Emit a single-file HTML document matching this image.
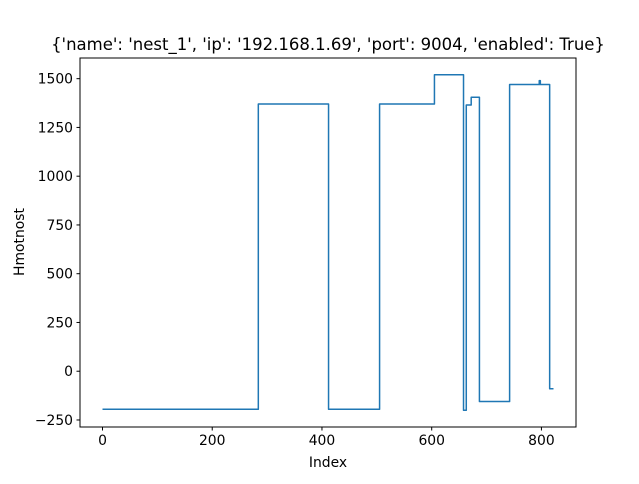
<!DOCTYPE html>
<html><head><meta charset="utf-8"><style>
html,body{margin:0;padding:0;background:#fff;}
svg text{font-family:"DejaVu Sans","Liberation Sans",sans-serif;fill:#000;}
</style></head><body>
<svg id="chart" width="639" height="479" viewBox="0 0 639 479" xmlns="http://www.w3.org/2000/svg">
<rect x="0" y="0" width="639" height="479" fill="#fff"/>
<text x="328" y="50" font-size="16.5" text-anchor="middle">{'name': 'nest_1', 'ip': '192.168.1.69', 'port': 9004, 'enabled': True}</text>
<g id="plot"></g>
<rect x="80" y="58" width="496" height="369" fill="none" stroke="#000" stroke-width="1"/>
<g id="xticks"></g>
<g id="yticks"></g>
<text x="328" y="467" font-size="13.9" text-anchor="middle">Index</text>
<text transform="translate(24,242) rotate(-90)" font-size="13.9" text-anchor="middle">Hmotnost</text>
</svg>
<script>
const segStarts = [0, 284, 412, 505, 605, 658, 663, 672, 687, 742, 796, 798, 815];
const segLevels = [-195, 1370, -195, 1370, 1520, -200, 1365, 1405, -155, 1470, 1490, 1470, -90];
const lastIndex = 822;
const xTicks = [0, 200, 400, 600, 800];
const yTicks = [-250, 0, 250, 500, 750, 1000, 1250, 1500];

const X0=80, X1=576, Y0=58, Y1=427;
const xMin=-41, xMax=863, yMin=-286, yMax=1606;
const sx = v => X0 + (v - xMin) / (xMax - xMin) * (X1 - X0);
const sy = v => Y1 - (v - yMin) / (yMax - yMin) * (Y1 - Y0);
const NS = "http://www.w3.org/2000/svg";

let pts = [];
for (let i = 0; i < segStarts.length; i++) {
  const end = i + 1 < segStarts.length ? segStarts[i + 1] : lastIndex;
  pts.push(sx(segStarts[i]).toFixed(2) + "," + sy(segLevels[i]).toFixed(2));
  pts.push(sx(end).toFixed(2) + "," + sy(segLevels[i]).toFixed(2));
}
const line = document.createElementNS(NS, "polyline");


line.setAttribute("points", pts.join(" "));
line.setAttribute("fill", "none");
line.setAttribute("stroke", "#1f77b4");
line.setAttribute("stroke-width", "1.5");
line.setAttribute("stroke-linejoin", "round");
document.getElementById("plot").appendChild(line);

const xg = document.getElementById("xticks");
xTicks.forEach(t => {
  const x = sx(t);
  const l = document.createElementNS(NS, "line");
  
  
  l.setAttribute("x1", x); l.setAttribute("x2", x);
  l.setAttribute("y1", Y1); l.setAttribute("y2", Y1 + 3.5);
  l.setAttribute("stroke", "#000");
  xg.appendChild(l);
  const tx = document.createElementNS(NS, "text");
  
  
  tx.setAttribute("x", x); tx.setAttribute("y", Y1 + 18);
  tx.setAttribute("font-size", "13.9");
  tx.setAttribute("text-anchor", "middle");
  tx.textContent = t;
  xg.appendChild(tx);
});
const yg = document.getElementById("yticks");
yTicks.forEach(t => {
  const y = sy(t);
  const l = document.createElementNS(NS, "line");
  
  
  l.setAttribute("x1", X0 - 3.5); l.setAttribute("x2", X0);
  l.setAttribute("y1", y); l.setAttribute("y2", y);
  l.setAttribute("stroke", "#000");
  yg.appendChild(l);
  const tx = document.createElementNS(NS, "text");
  
  
  tx.setAttribute("x", X0 - 7); tx.setAttribute("y", y + 5);
  tx.setAttribute("font-size", "13.9");
  tx.setAttribute("text-anchor", "end");
  tx.textContent = t < 0 ? "\u2212" + Math.abs(t) : t;
  yg.appendChild(tx);
});
</script>
</body></html>
